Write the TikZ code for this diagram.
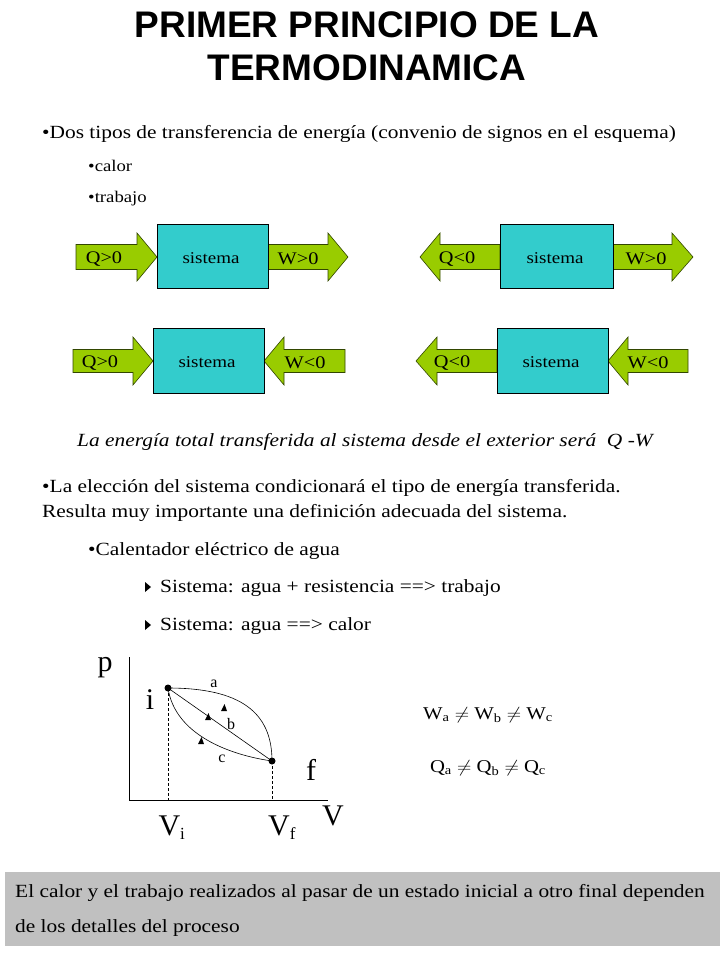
\documentclass[tikz,border=0pt]{standalone}
\usepackage{fontspec}
\usepackage{graphicx}
\setmainfont{Liberation Serif}
\newfontfamily\titlefont{Liberation Sans}
\newcommand\hs[1]{\scalebox{1.15}[1]{#1}}
\definecolor{arrgreen}{RGB}{153,204,0}
\definecolor{arredge}{RGB}{50,70,0}
\definecolor{boxcyan}{RGB}{51,204,204}
\definecolor{notegray}{RGB}{192,192,192}
\begin{document}
\begin{tikzpicture}[x=1pt,y=-1pt,
  garrow/.style={fill=arrgreen,draw=arredge,line width=0.6pt},
  sysbox/.style={fill=boxcyan,draw=black,line width=0.6pt},
  lbl/.style={font=\fontsize{17.7}{19}\selectfont,inner sep=0pt},
  systxt/.style={font=\fontsize{16.5}{18}\selectfont,inner sep=0pt},
  body/.style={font=\fontsize{18.6}{21}\selectfont,inner sep=0pt,anchor=west},
  small/.style={font=\fontsize{16.3}{18}\selectfont,inner sep=0pt,anchor=west},
  big/.style={font=\fontsize{30}{32}\selectfont,inner sep=0pt},
  tiny/.style={font=\fontsize{16}{18}\selectfont,inner sep=0pt},
  axis/.style={line width=0.8pt},
  curve/.style={line width=0.6pt}]
\useasboundingbox (0,0) rectangle (720,960);
% title
\node[font=\titlefont\bfseries\fontsize{37}{42}\selectfont,inner sep=0pt] (t1) at (367,25) {PRIMER PRINCIPIO DE LA};
\node[font=\titlefont\bfseries\fontsize{37}{42}\selectfont,inner sep=0pt] (t2) at (367,68) {TERMODINAMICA};
% bullets
\node[body] (b1) at (42,134) {\hs{•Dos tipos de transferencia de energía (convenio de signos en el esquema)}};
\node[small] (b2) at (88,166) {\hs{•calor}};
\node[small] (b3) at (88,199) {\hs{•trabajo}};
% ---- row 1 left
\draw[garrow] (76,244.5) -- (137,244.5) -- (137,233) -- (157,257) -- (137,281) -- (137,269.5) -- (76,269.5) -- cycle;
\draw[garrow] (268,244.5) -- (328,244.5) -- (328,233) -- (348,257) -- (328,281) -- (328,269.5) -- (268,269.5) -- cycle;
\draw[sysbox] (157,224) rectangle (268,288);
\node[systxt] (s1) at (211,258) {\hs{sistema}};
\node[lbl] (q1) at (104,259) {\hs{Q>0}};
\node[lbl] (w1) at (298,259) {\hs{W>0}};
% ---- row 1 right
\draw[garrow] (500,244.5) -- (440,244.5) -- (440,233) -- (420,257) -- (440,281) -- (440,269.5) -- (500,269.5) -- cycle;
\draw[garrow] (613,244.5) -- (672,244.5) -- (672,233) -- (693,257) -- (672,281) -- (672,269.5) -- (613,269.5) -- cycle;
\draw[sysbox] (500,224) rectangle (613,288);
\node[systxt] (s2) at (555,258) {\hs{sistema}};
\node[lbl] (q2) at (457,259) {\hs{Q<0}};
\node[lbl] (w2) at (646,259) {\hs{W>0}};
% ---- row 2 left
\draw[garrow] (73,349.5) -- (133,349.5) -- (133,337) -- (153,361) -- (133,385) -- (133,372.5) -- (73,372.5) -- cycle;
\draw[garrow] (345,349.5) -- (284,349.5) -- (284,337) -- (264,361) -- (284,385) -- (284,372.5) -- (345,372.5) -- cycle;
\draw[sysbox] (153,328) rectangle (264,393);
\node[systxt] (s3) at (207,362) {\hs{sistema}};
\node[lbl] (q3) at (100,363) {\hs{Q>0}};
\node[lbl] (w3) at (305,363) {\hs{W<0}};
% ---- row 2 right
\draw[garrow] (497,349.5) -- (437,349.5) -- (437,337) -- (416,361) -- (437,385) -- (437,372.5) -- (497,372.5) -- cycle;
\draw[garrow] (688,349.5) -- (628,349.5) -- (628,337) -- (608,361) -- (628,385) -- (628,372.5) -- (688,372.5) -- cycle;
\draw[sysbox] (497,328) rectangle (608,393);
\node[systxt] (s4) at (551,362) {\hs{sistema}};
\node[lbl] (q4) at (452,363) {\hs{Q<0}};
\node[lbl] (w4) at (648,363) {\hs{W<0}};
% italic line
\node[font=\fontsize{18.6}{21}\selectfont\itshape,inner sep=0pt,anchor=west] (it) at (77,442) {\hs{La energía total transferida al sistema desde el exterior será~~Q -W}};
\node[body] (c1) at (42,488) {\hs{•La elección del sistema condicionará el tipo de energía transferida.}};
\node[body] (c2) at (42,513) {\hs{Resulta muy importante una definición adecuada del sistema.}};
\node[body] (d1) at (88,551) {\hs{•Calentador eléctrico de agua}};
\fill (145,582) -- (151,587) -- (145,592) -- cycle;
\node[body] (d2) at (160,588) {\hs{Sistema: agua + resistencia ==> trabajo}};
\fill (145,620) -- (151,625) -- (145,630) -- cycle;
\node[body] (d3) at (160,626) {\hs{Sistema: agua ==> calor}};
% ---- graph
\coordinate (O) at (129,800);
\coordinate (ytop) at (129,657);
\coordinate (xend) at (328,800);
\draw[axis] (ytop) -- (O) -- (xend);
\coordinate (pi) at (168,688);
\coordinate (pf) at (272,761);
\coordinate (vi) at (168,800);
\coordinate (vf) at (272,800);
\draw[dash pattern=on 3pt off 2pt,line width=0.6pt] (pi) -- (vi);
\draw[dash pattern=on 3pt off 2pt,line width=0.6pt] (pf) -- (vf);
\draw[curve] (pi) .. controls (240,688) and (272,712) .. (pf);
\draw[curve] (pi) -- (pf);
\draw[curve] (pi) .. controls (175,735) and (230,755) .. (pf);
\fill (pi) circle (3.5);
\fill (pf) circle (3.5);
\fill (205,720) -- (211,720) -- (208.5,713) -- cycle;
\fill (221,711) -- (227,711) -- (224.5,704) -- cycle;
\fill (198,744) -- (204,744) -- (201.5,737) -- cycle;
\node[big] (lp) at (105,668) {p};
\node[big] (li) at (150,700) {i};
\node[big] (lf) at (311,770) {f};
\node[big] (lV) at (333,816) {V};
\node[big] (lVi) at (172,828) {V\textsubscript{\fontsize{17}{17}\selectfont i}};
\node[big] (lVf) at (282,828) {V\textsubscript{\fontsize{17}{17}\selectfont f}};
\node[tiny] (la) at (214,684) {a};
\node[tiny] (lb) at (231,724) {b};
\node[tiny] (lc) at (222,759) {c};
% equations
\node[font=\fontsize{18}{20}\selectfont,inner sep=0pt] (eqw) at (488,715) {\hs{W\textsubscript{a} $\neq$ W\textsubscript{b} $\neq$ W\textsubscript{c}}};
\node[font=\fontsize{18}{20}\selectfont,inner sep=0pt] (eqq) at (488,768) {\hs{Q\textsubscript{a} $\neq$ Q\textsubscript{b} $\neq$ Q\textsubscript{c}}};
% bottom note
\fill[notegray] (5,872) rectangle (720,946);
\node[body] (n1) at (15,893) {\hs{El calor y el trabajo realizados al pasar de un estado inicial a otro final dependen}};
\node[body] (n2) at (15,928) {\hs{de los detalles del proceso}};
\end{tikzpicture}
\end{document}
